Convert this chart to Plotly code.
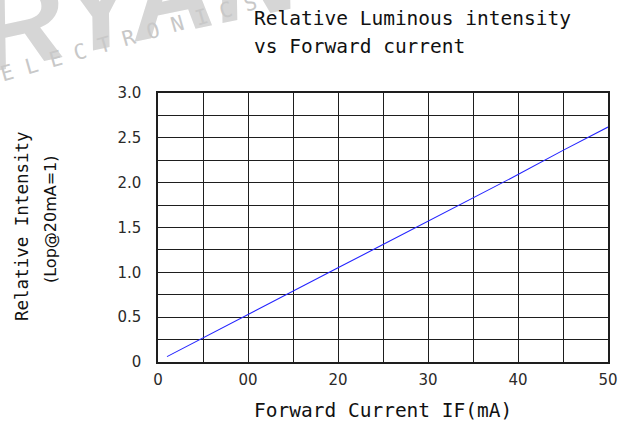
import plotly.graph_objects as go

# ---- data ----
forward_current_ma = [1, 5, 10, 15, 20, 25, 30, 35, 40, 45, 50]
relative_intensity = [0.06, 0.27, 0.53, 0.79, 1.05, 1.31, 1.57, 1.83, 2.09, 2.36, 2.62]

x_tick_values = [0, 10, 20, 30, 40, 50]
x_tick_labels = ["0", "00", "20", "30", "40", "50"]
y_tick_values = [0, 0.5, 1.0, 1.5, 2.0, 2.5, 3.0]
y_tick_labels = ["0", "0.5", "1.0", "1.5", "2.0", "2.5", "3.0"]

title_lines = ["Relative Luminous intensity", "vs Forward current"]
x_title = "Forward Current IF(mA)"
y_title = "Relative Intensity"
y_subtitle = "(Lop@20mA=1)"

# ---- layout geometry (pixels) ----
W, H = 632, 423
L, R, T, B = 158, 24, 93, 61
PW, PH = W - L - R, H - T - B


def px(x):
    return (x - L) / PW


def py(y):
    return (H - B - y) / PH


MONO = "DejaVu Sans Mono"
SANS = "DejaVu Sans"
GRID = "#1e1e1e"

fig = go.Figure()
fig.add_trace(go.Scatter(
    x=forward_current_ma, y=relative_intensity, mode="lines",
    line=dict(color="#2424ff", width=1.1), showlegend=False, hoverinfo="skip",
))

axis_common = dict(
    showline=True, linecolor=GRID, linewidth=1.5, mirror=True,
    showgrid=True, gridcolor=GRID, gridwidth=1.2,
    zeroline=False, ticks="",
    tickfont=dict(family=SANS, size=15, color="#2a2a2a"),
)

fig.update_xaxes(
    range=[0, 50], tickmode="array", tickvals=x_tick_values, ticktext=x_tick_labels,
    minor=dict(dtick=5, showgrid=True, gridcolor=GRID, gridwidth=1.2),
    ticklabelstandoff=3, **axis_common,
)
fig.update_yaxes(
    range=[0, 3.0], tickmode="array", tickvals=y_tick_values, ticktext=y_tick_labels,
    minor=dict(dtick=0.25, showgrid=True, gridcolor=GRID, gridwidth=1.2),
    ticklabelstandoff=12, **axis_common,
)

annotations = []
# watermark (partly outside the page, as in the reference)
annotations.append(dict(
    text="BRYAN", x=px(96), y=py(8), xref="paper", yref="paper",
    xanchor="center", yanchor="middle", showarrow=False, textangle=-12,
    font=dict(family="Liberation Sans", size=118, color="#d6d6d6", weight="bold", style="italic"),
))
annotations.append(dict(
    text="E L E C T R O N I C S", x=px(129), y=py(38), xref="paper", yref="paper",
    xanchor="center", yanchor="middle", showarrow=False, textangle=-16,
    font=dict(family=MONO, size=21, color="#c8c8c8"),
))
# title
for line, yc in zip(title_lines, [18, 47]):
    annotations.append(dict(
        text=line, x=px(252), y=py(yc), xref="paper", yref="paper",
        xanchor="left", yanchor="middle", showarrow=False,
        font=dict(family=MONO, size=19.5, color="#111"),
    ))
# axis titles
annotations.append(dict(
    text=x_title, x=0.5, y=py(410), xref="paper", yref="paper",
    xanchor="center", yanchor="middle", showarrow=False,
    font=dict(family=MONO, size=19.5, color="#111"),
))
annotations.append(dict(
    text=y_title, x=px(22), y=py(226), xref="paper", yref="paper",
    xanchor="center", yanchor="middle", showarrow=False, textangle=-90,
    font=dict(family=MONO, size=17.5, color="#111"),
))
annotations.append(dict(
    text=y_subtitle, x=px(50), y=py(219), xref="paper", yref="paper",
    xanchor="center", yanchor="middle", showarrow=False, textangle=-90,
    font=dict(family=SANS, size=16, color="#111"),
))

fig.update_layout(
    width=W, height=H, margin=dict(l=L, r=R, t=T, b=B),
    paper_bgcolor="white", plot_bgcolor="white",
    annotations=annotations, showlegend=False,
)

# remove the browser's default 8px body margin so the figure sits at the page origin
fig.write_html("out.html", config={"displayModeBar": False},
               post_script="document.body.style.margin='0px';")
